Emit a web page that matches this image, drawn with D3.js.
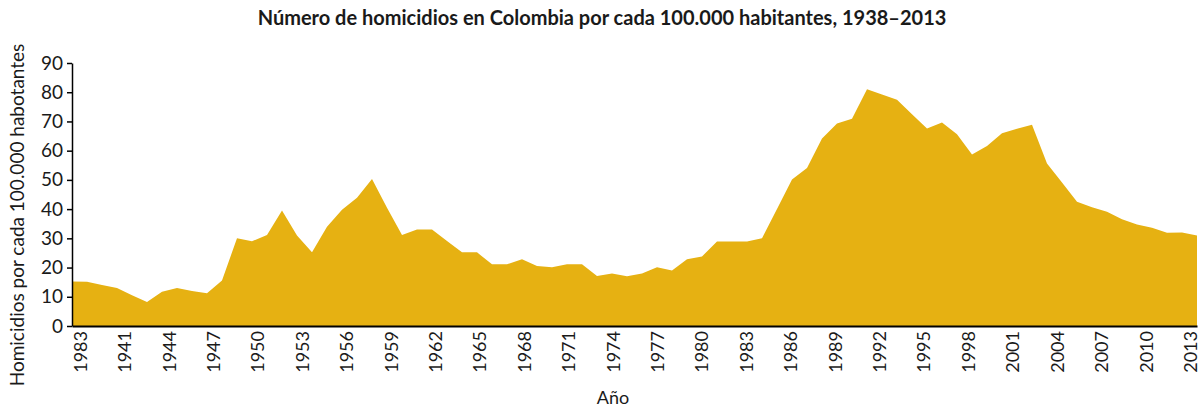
<!DOCTYPE html>
<html>
<head>
<meta charset="utf-8">
<script src="https://cdn.jsdelivr.net/npm/d3@7"></script>
<style>
  body { margin: 0; background: #fff; }
  svg text { font-family: Lato, "Open Sans", sans-serif; fill: #1a1a1a; }
</style>
</head>
<body>
<svg width="1204" height="411"></svg>
<script>
// años 1938-2013
var years = d3.range(1938, 2014);

// homicidios por cada 100.000 habitantes
var rates = [
  15.2, 15.1, 14.0, 13.0, 10.5, 8.2, 11.7, 13.0, 12.0, 11.2,
  15.6, 30.0, 29.0, 31.1, 39.5, 31.0, 25.2, 34.0, 39.8, 43.9,
  50.3, 40.5, 31.1, 33.0, 33.0, 29.1, 25.2, 25.2, 21.1, 21.1,
  22.8, 20.5, 20.1, 21.1, 21.1, 17.1, 18.0, 17.0, 18.0, 20.1,
  19.0, 22.8, 23.8, 28.9, 28.9, 28.9, 30.0, 40.0, 50.1, 54.1,
  64.2, 69.3, 70.9, 81.0, 79.2, 77.4, 72.5, 67.6, 69.6, 65.6,
  58.7, 61.6, 66.0, 67.5, 68.9, 55.6, 49.1, 42.5, 40.6, 39.1,
  36.5, 34.7, 33.6, 31.9, 32.0, 31.0
];

// etiquetas del eje x, cada 3 años (la primera viene así en el original)
var tickYears = d3.range(1938, 2014, 3);
var tickLabels = ["1983", "1941", "1944", "1947", "1950", "1953", "1956", "1959",
  "1962", "1965", "1968", "1971", "1974", "1977", "1980", "1983", "1986", "1989",
  "1992", "1995", "1998", "2001", "2004", "2007", "2010", "2013"];

var yTicks = d3.range(0, 100, 10);

var data = years.map(function(d, i) { return {year: d, rate: rates[i]}; });

var svg = d3.select("svg"),
    margin = {top: 63, right: 7, bottom: 85, left: 72},
    width = +svg.attr("width") - margin.left - margin.right,
    height = +svg.attr("height") - margin.top - margin.bottom,
    g = svg.append("g").attr("transform", "translate(" + margin.left + "," + margin.top + ")");

var x = d3.scaleLinear()
    .domain([1938, 2013])
    .range([0, width]);

// las etiquetas van centradas en bandas, como en el original
var xBand = d3.scaleBand()
    .domain(years)
    .range([0, width]);

var y = d3.scaleLinear()
    .domain([0, 90])
    .range([height, 0]);

var area = d3.area()
    .x(function(d) { return x(d.year); })
    .y0(height)
    .y1(function(d) { return y(d.rate); });

g.append("path")
    .datum(data)
    .attr("fill", "#e6b112")
    .attr("d", area);

// eje x
var xAxis = g.append("g")
    .attr("transform", "translate(0," + height + ")")
    .call(d3.axisBottom(xBand)
      .tickValues(tickYears)
      .tickSize(0)
      .tickPadding(0)
      .tickFormat(function(d, i) { return tickLabels[i]; }));

xAxis.select(".domain")
    .attr("stroke", "#000")
    .attr("stroke-width", 2);

xAxis.selectAll(".tick text")
    .attr("font-size", 18)
    .attr("fill", "#1a1a1a")
    .attr("transform", "rotate(-90)")
    .attr("text-anchor", "end")
    .attr("x", -5)
    .attr("y", 1)
    .attr("dy", "0.35em");

// eje y
var yAxis = g.append("g")
    .call(d3.axisLeft(y)
      .tickValues(yTicks)
      .tickSize(5)
      .tickSizeOuter(0)
      .tickPadding(4));

yAxis.select(".domain").attr("stroke", "#000").attr("stroke-width", 1.5);
yAxis.selectAll(".tick line").attr("stroke", "#000").attr("stroke-width", 1.5);
yAxis.selectAll(".tick text")
    .attr("font-size", 19)
    .attr("fill", "#1a1a1a");

// títulos
svg.append("text")
    .attr("x", 602)
    .attr("y", 25)
    .attr("text-anchor", "middle")
    .attr("font-size", 20)
    .attr("font-weight", "bold")
    .text("Número de homicidios en Colombia por cada 100.000 habitantes, 1938–2013");

svg.append("text")
    .attr("transform", "translate(24," + 215 + ") rotate(-90)")
    .attr("text-anchor", "middle")
    .attr("font-size", 19)
    .text("Homicidios por cada 100.000 habotantes");

svg.append("text")
    .attr("x", 613)
    .attr("y", 404)
    .attr("text-anchor", "middle")
    .attr("font-size", 18)
    .text("Año");
</script>
</body>
</html>
